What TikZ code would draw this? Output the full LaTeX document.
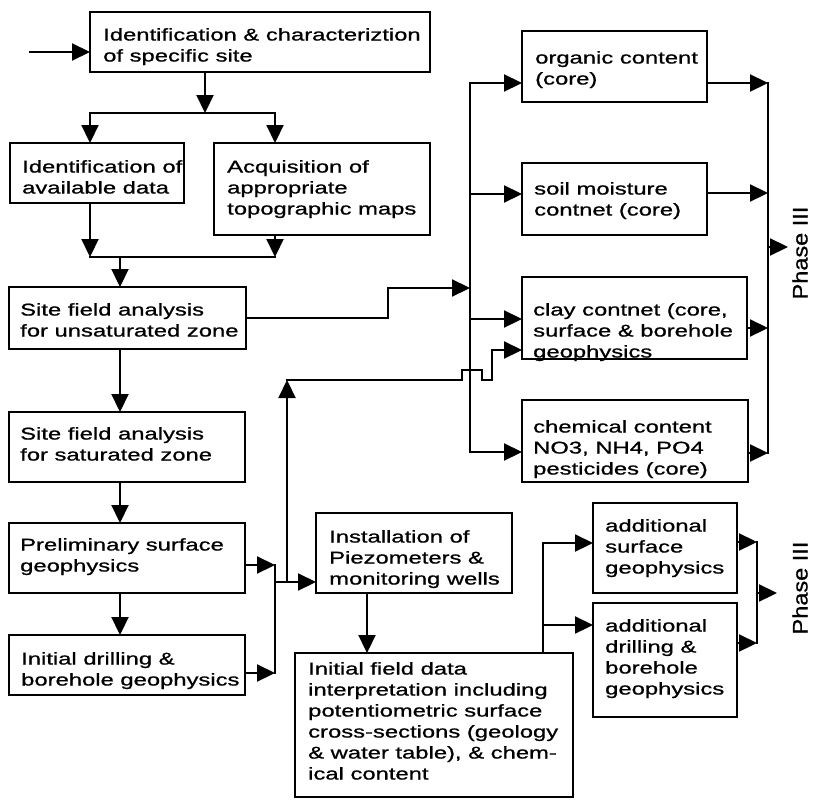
\documentclass[tikz,border=0pt]{standalone}
\usepackage{fontspec}
\setmainfont[FakeStretch=1.4,FakeBold=0.9]{Liberation Sans}
\newfontfamily\phasefont[FakeStretch=1.12,FakeBold=0.9]{Liberation Sans}
\usetikzlibrary{arrows.meta,calc}

\begin{document}
\begin{tikzpicture}[x=1pt,y=-1pt,
  box/.style={draw,line width=2.2pt,inner sep=0pt,outer sep=0pt,anchor=north west},
  txt/.style={anchor=north west,inner sep=0pt,align=left,
              font=\fontsize{17}{21}\selectfont},
  wire/.style={line width=2.2pt,line cap=rect},
  arr/.style={wire,-{Triangle[length=18pt,width=17pt]}},
  phase/.style={font=\phasefont\fontsize{21}{21}\selectfont,rotate=90,inner sep=0pt}]
\useasboundingbox (0,0) rectangle (813,800);

% ---- boxes ----
\node[box,minimum width=340pt,minimum height=60pt]  (A) at (90,12)  {};
\node[box,minimum width=174pt,minimum height=60pt]  (B) at (10,143) {};
\node[box,minimum width=216pt,minimum height=92pt]  (C) at (214,143) {};
\node[box,minimum width=237pt,minimum height=62pt]  (D) at (9,287)  {};
\node[box,minimum width=236pt,minimum height=70pt]  (I) at (9,412)  {};
\node[box,minimum width=236pt,minimum height=70pt]  (J) at (9,523)  {};
\node[box,minimum width=236pt,minimum height=60pt]  (K) at (9,635)  {};
\node[box,minimum width=185pt,minimum height=71pt]  (E) at (522,31) {};
\node[box,minimum width=185pt,minimum height=72pt]  (F) at (522,163) {};
\node[box,minimum width=225pt,minimum height=82pt]  (G) at (522,277) {};
\node[box,minimum width=226pt,minimum height=82pt]  (H) at (522,400) {};
\node[box,minimum width=196pt,minimum height=80pt]  (L) at (316,513) {};
\node[box,minimum width=278pt,minimum height=144pt] (M) at (295,653) {};
\node[box,minimum width=144pt,minimum height=90pt]  (N) at (593,503) {};
\node[box,minimum width=144pt,minimum height=114pt] (O) at (593,603) {};

% ---- box texts ----
\newcommand\capline{\vphantom{Id}}
\node[txt] (tA) at (103,28)  {\capline Identification \& characteriztion\\of specific site};
\node[txt] (tB) at (22,160)  {\capline Identification of\\available data};
\node[txt] (tC) at (227,160) {\capline Acquisition of\\appropriate\\topographic maps};
\node[txt] (tD) at (20,303)  {\capline Site field analysis\\for unsaturated zone};
\node[txt] (tI) at (20,427)  {\capline Site field analysis\\for saturated zone};
\node[txt] (tJ) at (20,538)  {\capline Preliminary surface\\geophysics};
\node[txt] (tK) at (21,652)  {\capline Initial drilling \&\\borehole geophysics};
\node[txt] (tE) at (535,51)  {\capline organic content\\(core)};
\node[txt] (tF) at (534,182) {\capline soil moisture\\contnet (core)};
\node[txt] (tG) at (533,303) {\capline clay contnet (core,\\surface \& borehole\\geophysics};
\node[txt] (tH) at (533,420) {\capline chemical content\\NO3, NH4, PO4\\pesticides (core)};
\node[txt] (tL) at (329,530) {\capline Installation of\\Piezometers \&\\monitoring wells};
\node[txt] (tM) at (308,662) {\capline Initial field data\\interpretation including\\potentiometric surface\\cross-sections (geology\\\& water table), \& chem-\\ical content};
\node[txt] (tN) at (605,519) {\capline additional\\surface\\geophysics};
\node[txt] (tO) at (605,619) {\capline additional\\drilling \&\\borehole\\geophysics};

% ---- phase labels ----
\node[phase] (ph1) at (800,253) {Phase III};
\node[phase] (ph2) at (800,588) {Phase III};

% ---- junction points ----
\coordinate (in)   at (30,52);
\coordinate (s1c)  at (205,113);
\coordinate (s1l)  at (90,113);
\coordinate (s1r)  at (275,113);
\coordinate (m1l)  at (90,257);
\coordinate (m1r)  at (275,257);
\coordinate (m1)   at (120,257);
\coordinate (jog)  at (388,288);
\coordinate (btop) at (470,83);
\coordinate (bF)   at (470,194);
\coordinate (bG)   at (470,319);
\coordinate (bbot) at (470,452);
\coordinate (b1)   at (470,288);
\coordinate (rtop) at (768,83);
\coordinate (rF)   at (768,193);
\coordinate (rG)   at (768,328);
\coordinate (rbot) at (768,453);
\coordinate (rout) at (768,247);
\coordinate (pout) at (788,247);
\coordinate (jJ)   at (275,565);
\coordinate (jK)   at (275,673);
\coordinate (jL)   at (275,582);
\coordinate (up1)  at (287,582);
\coordinate (up2)  at (287,380);
\coordinate (gin)  at (492,350);
\coordinate (lx)   at (367,600);
\coordinate (mN)   at (543,543);
\coordinate (mO)   at (543,625);
\coordinate (nN)   at (757,542);
\coordinate (nO)   at (757,643);
\coordinate (nout) at (757,593);
\coordinate (qout) at (777,593);

% ---- upper left flow ----
\draw[arr] (in) -- (in -| A.west);
\draw[arr] (A.south -| s1c) -- (s1c);
\draw[arr] (s1c) -- (s1l) -- (s1l |- B.north);
\draw[arr] (s1c) -- (s1r) -- (s1r |- C.north);
\draw[arr] (B.south -| m1l) -- (m1l);
\draw[arr] (C.south -| m1r) -- (m1r);
\draw[wire] (m1l) -- (m1r);
\draw[arr] (m1) -- (m1 |- D.north);
\draw[arr] (D.south -| m1) -- (I.north -| m1);
\draw[arr] (I.south -| m1) -- (J.north -| m1);
\draw[arr] (J.south -| m1) -- (K.north -| m1);

% ---- unsaturated zone to the core analyses ----
\draw[arr] (D.east) -| (jog) -- (b1);
\draw[arr] (bF) -- (btop) -- (E.west |- btop);
\draw[arr] (bG) -- (bbot) -- (H.west |- bbot);
\draw[wire] (bF) -- (bG);
\draw[arr] (bF) -- (F.west |- bF);
\draw[arr] (bG) -- (G.west |- bG);

% ---- collecting bus toward Phase III ----
\draw[wire] (rtop) -- (rbot);
\draw[arr] (E.east |- rtop) -- (rtop);
\draw[arr] (F.east |- rF) -- (rF);
\draw[arr] (G.east |- rG) -- (rG);
\draw[arr] (H.east |- rbot) -- (rbot);
\draw[arr] (rout) -- (pout);

% ---- geophysics and drilling to the piezometers ----
\draw[arr] (J.east |- jJ) -- (jJ);
\draw[arr] (K.east |- jK) -- (jK);
\draw[wire] (jJ) -- (jK);
\draw[arr] (jL) -- (L.west |- jL);
\draw[arr] (up1) -- (up2);
\draw[arr] (up2) -- (462,380) -- (462,370) -- (482,370) -- (482,380)
           -- (gin |- up2) -- (gin) -- (G.west |- gin);

% ---- piezometers, interpretation, additional work ----
\draw[arr] (L.south -| lx) -- (M.north -| lx);
\draw[arr] (M.north -| mN) -- (mN) -- (N.west |- mN);
\draw[arr] (mO) -- (O.west |- mO);
\draw[arr] (N.east |- nN) -- (nN);
\draw[arr] (O.east |- nO) -- (nO);
\draw[wire] (nN) -- (nO);
\draw[arr] (nout) -- (qout);
\end{tikzpicture}
\end{document}
